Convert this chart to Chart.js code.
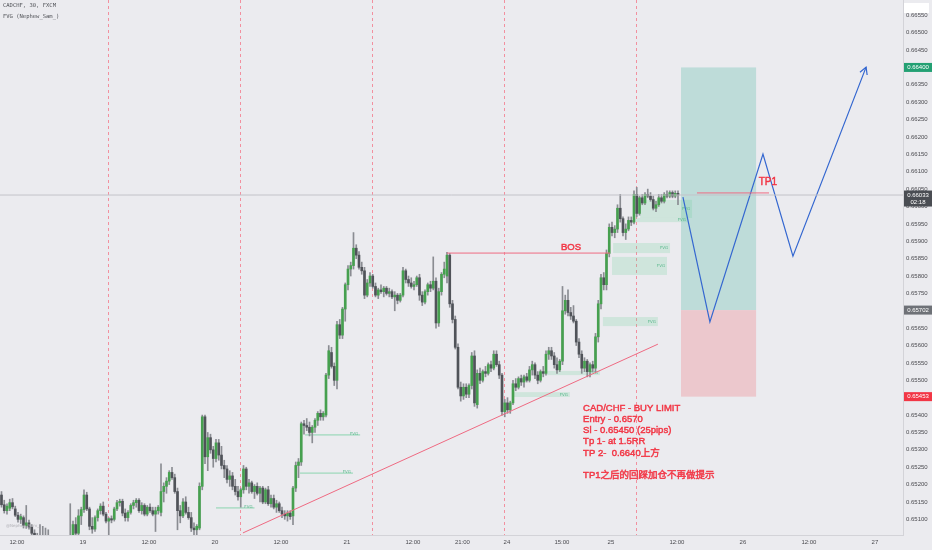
<!DOCTYPE html>
<html><head><meta charset="utf-8">
<script src="https://cdn.jsdelivr.net/npm/chart.js@4.4.1/dist/chart.umd.min.js"></script>
<style>html,body{margin:0;padding:0;background:#ebebef;overflow:hidden}canvas{display:block}</style>
</head><body>
<canvas id="c" width="932" height="550"></canvas>
<script>
// ---- candle data (CADCHF 30m) ----
const openP=[
0.65170,0.65142,0.65125,0.65132,0.65148,0.65130,0.65112,0.65100,0.65105,0.65082,
0.65090,0.65078,0.65060,0.65050,0.65040,0.65050,0.65030,0.65040,0.65030,0.65010,
0.65020,0.65000,0.65010,0.64990,0.65000,0.65020,0.65040,0.65085,0.65060,0.65110,
0.65128,0.65170,0.65130,0.65080,0.65072,0.65105,0.65125,0.65138,0.65115,0.65095,
0.65102,0.65100,0.65130,0.65148,0.65152,0.65118,0.65105,0.65120,0.65140,0.65148,
0.65155,0.65125,0.65140,0.65115,0.65135,0.65125,0.65115,0.65125,0.65120,0.65180,
0.65195,0.65210,0.65235,0.65220,0.65180,0.65125,0.65110,0.65150,0.65120,0.65105,
0.65075,0.65070,0.65075,0.65195,0.65395,0.65280,0.65335,0.65300,0.65275,0.65320,
0.65285,0.65255,0.65245,0.65215,0.65225,0.65195,0.65180,0.65165,0.65185,0.65245,
0.65195,0.65205,0.65180,0.65195,0.65175,0.65190,0.65150,0.65185,0.65145,0.65160,
0.65135,0.65145,0.65125,0.65115,0.65110,0.65118,0.65110,0.65190,0.65255,0.65265,
0.65375,0.65370,0.65365,0.65350,0.65365,0.65385,0.65405,0.65395,0.65400,0.65515,
0.65580,0.65540,0.65500,0.65660,0.65630,0.65705,0.65775,0.65820,0.65830,0.65880,
0.65860,0.65825,0.65815,0.65745,0.65780,0.65800,0.65770,0.65745,0.65760,0.65755,
0.65765,0.65750,0.65755,0.65740,0.65745,0.65730,0.65745,0.65815,0.65790,0.65780,
0.65770,0.65775,0.65795,0.65745,0.65725,0.65755,0.65775,0.65765,0.65785,0.65665,
0.65755,0.65805,0.65800,0.65860,0.65720,0.65675,0.65595,0.65480,0.65455,0.65480,
0.65460,0.65485,0.65570,0.65430,0.65520,0.65500,0.65525,0.65520,0.65545,0.65535,
0.65575,0.65545,0.65515,0.65410,0.65435,0.65415,0.65435,0.65490,0.65480,0.65505,
0.65495,0.65510,0.65500,0.65530,0.65545,0.65515,0.65500,0.65525,0.65520,0.65575,
0.65585,0.65570,0.65545,0.65530,0.65555,0.65700,0.65730,0.65695,0.65685,0.65670,
0.65610,0.65575,0.65535,0.65555,0.65525,0.65545,0.65535,0.65625,0.65720,0.65795,
0.65775,0.65865,0.65940,0.65925,0.65935,0.65995,0.65965,0.65925,0.65935,0.65960,
0.65955,0.66035,0.65980,0.66025,0.66010,0.66035,0.66030,0.66020,0.65995,0.66005,
0.66025,0.66015,0.66035,0.66030,0.66040,0.66030,0.66038];
const highP=[
0.65180,0.65155,0.65145,0.65158,0.65160,0.65138,0.65120,0.65115,0.65110,0.65140,
0.65098,0.65085,0.65070,0.65060,0.65085,0.65080,0.65075,0.65070,0.65050,0.65040,
0.65040,0.65030,0.65030,0.65020,0.65040,0.65145,0.65095,0.65105,0.65128,0.65135,
0.65185,0.65178,0.65135,0.65105,0.65110,0.65130,0.65145,0.65150,0.65120,0.65105,
0.65110,0.65135,0.65155,0.65158,0.65158,0.65130,0.65125,0.65145,0.65155,0.65160,
0.65160,0.65148,0.65145,0.65140,0.65145,0.65135,0.65135,0.65140,0.65260,0.65205,
0.65220,0.65240,0.65250,0.65230,0.65190,0.65140,0.65160,0.65165,0.65135,0.65120,
0.65090,0.65085,0.65205,0.65400,0.65400,0.65350,0.65345,0.65310,0.65330,0.65330,
0.65310,0.65270,0.65255,0.65240,0.65235,0.65215,0.65195,0.65190,0.65255,0.65250,
0.65215,0.65210,0.65200,0.65205,0.65195,0.65195,0.65190,0.65195,0.65170,0.65170,
0.65155,0.65150,0.65135,0.65125,0.65125,0.65125,0.65195,0.65265,0.65275,0.65380,
0.65385,0.65390,0.65380,0.65370,0.65390,0.65410,0.65415,0.65410,0.65520,0.65600,
0.65595,0.65550,0.65670,0.65675,0.65710,0.65780,0.65830,0.65840,0.65925,0.65890,
0.65870,0.65840,0.65825,0.65790,0.65810,0.65805,0.65780,0.65765,0.65775,0.65770,
0.65770,0.65765,0.65760,0.65755,0.65750,0.65750,0.65825,0.65820,0.65800,0.65795,
0.65785,0.65800,0.65805,0.65755,0.65760,0.65780,0.65785,0.65855,0.65795,0.65765,
0.65810,0.65840,0.65868,0.65865,0.65730,0.65685,0.65605,0.65495,0.65490,0.65490,
0.65490,0.65580,0.65585,0.65530,0.65535,0.65530,0.65540,0.65550,0.65555,0.65585,
0.65585,0.65555,0.65520,0.65445,0.65450,0.65440,0.65500,0.65505,0.65510,0.65515,
0.65515,0.65520,0.65540,0.65555,0.65550,0.65525,0.65530,0.65540,0.65585,0.65595,
0.65595,0.65580,0.65565,0.65560,0.65770,0.65745,0.65760,0.65710,0.65715,0.65675,
0.65620,0.65585,0.65565,0.65560,0.65550,0.65555,0.65635,0.65730,0.65805,0.65810,
0.65875,0.65950,0.65955,0.65945,0.66005,0.66035,0.65970,0.65950,0.65970,0.65970,
0.66045,0.66055,0.66030,0.66035,0.66040,0.66050,0.66040,0.66030,0.66015,0.66035,
0.66035,0.66040,0.66045,0.66045,0.66045,0.66045,0.66045];
const lowP=[
0.65135,0.65118,0.65115,0.65125,0.65130,0.65108,0.65092,0.65088,0.65075,0.65074,
0.65072,0.65055,0.65040,0.65030,0.65020,0.65020,0.65010,0.65020,0.65000,0.64990,
0.64990,0.64980,0.64980,0.64970,0.64980,0.65000,0.65020,0.65050,0.65050,0.65085,
0.65120,0.65125,0.65070,0.65060,0.65065,0.65095,0.65115,0.65110,0.65090,0.65055,
0.65090,0.65095,0.65125,0.65138,0.65110,0.65095,0.65095,0.65115,0.65130,0.65135,
0.65120,0.65115,0.65110,0.65110,0.65120,0.65110,0.65065,0.65115,0.65110,0.65150,
0.65175,0.65200,0.65215,0.65175,0.65070,0.65090,0.65105,0.65115,0.65100,0.65065,
0.65050,0.65045,0.65070,0.65185,0.65260,0.65240,0.65290,0.65250,0.65265,0.65270,
0.65245,0.65220,0.65205,0.65195,0.65185,0.65170,0.65155,0.65135,0.65175,0.65185,
0.65175,0.65175,0.65160,0.65170,0.65150,0.65145,0.65145,0.65140,0.65135,0.65130,
0.65120,0.65120,0.65105,0.65100,0.65095,0.65100,0.65085,0.65180,0.65220,0.65255,
0.65345,0.65355,0.65340,0.65320,0.65350,0.65370,0.65385,0.65385,0.65395,0.65505,
0.65535,0.65485,0.65475,0.65620,0.65620,0.65670,0.65760,0.65800,0.65820,0.65850,
0.65820,0.65805,0.65735,0.65740,0.65770,0.65765,0.65740,0.65735,0.65750,0.65740,
0.65745,0.65740,0.65735,0.65700,0.65720,0.65725,0.65740,0.65780,0.65770,0.65765,
0.65760,0.65770,0.65730,0.65715,0.65720,0.65745,0.65755,0.65760,0.65650,0.65655,
0.65745,0.65795,0.65780,0.65710,0.65665,0.65590,0.65475,0.65440,0.65445,0.65450,
0.65450,0.65475,0.65425,0.65420,0.65490,0.65495,0.65510,0.65515,0.65525,0.65530,
0.65540,0.65505,0.65400,0.65395,0.65405,0.65405,0.65430,0.65470,0.65475,0.65485,
0.65480,0.65495,0.65495,0.65515,0.65505,0.65490,0.65495,0.65510,0.65515,0.65560,
0.65560,0.65535,0.65520,0.65525,0.65545,0.65690,0.65685,0.65675,0.65665,0.65600,
0.65565,0.65520,0.65525,0.65510,0.65510,0.65525,0.65525,0.65610,0.65705,0.65760,
0.65760,0.65855,0.65915,0.65910,0.65925,0.65955,0.65915,0.65905,0.65930,0.65945,
0.65950,0.65970,0.65975,0.66005,0.66005,0.66025,0.66015,0.65990,0.65985,0.66000,
0.66010,0.66010,0.66025,0.66025,0.66025,0.66025,0.66005];
const closeP=[
0.65142,0.65125,0.65138,0.65148,0.65136,0.65112,0.65100,0.65108,0.65082,0.65090,
0.65078,0.65060,0.65050,0.65040,0.65050,0.65030,0.65040,0.65030,0.65010,0.65020,
0.65000,0.65010,0.64990,0.65000,0.65020,0.65040,0.65085,0.65060,0.65110,0.65128,
0.65170,0.65130,0.65080,0.65072,0.65105,0.65125,0.65138,0.65115,0.65095,0.65102,
0.65098,0.65130,0.65148,0.65152,0.65118,0.65105,0.65120,0.65140,0.65148,0.65155,
0.65125,0.65140,0.65115,0.65135,0.65125,0.65115,0.65125,0.65135,0.65180,0.65195,
0.65210,0.65235,0.65220,0.65180,0.65125,0.65110,0.65150,0.65120,0.65105,0.65075,
0.65070,0.65080,0.65195,0.65395,0.65280,0.65335,0.65300,0.65275,0.65320,0.65285,
0.65255,0.65245,0.65215,0.65225,0.65195,0.65180,0.65165,0.65185,0.65245,0.65195,
0.65205,0.65180,0.65195,0.65175,0.65190,0.65150,0.65185,0.65145,0.65160,0.65135,
0.65145,0.65125,0.65115,0.65110,0.65118,0.65108,0.65190,0.65255,0.65265,0.65375,
0.65370,0.65365,0.65350,0.65365,0.65385,0.65405,0.65395,0.65405,0.65515,0.65585,
0.65540,0.65500,0.65660,0.65630,0.65705,0.65775,0.65820,0.65830,0.65880,0.65860,
0.65825,0.65815,0.65745,0.65780,0.65800,0.65770,0.65745,0.65760,0.65755,0.65765,
0.65750,0.65755,0.65740,0.65745,0.65730,0.65745,0.65815,0.65790,0.65780,0.65770,
0.65775,0.65795,0.65745,0.65725,0.65755,0.65775,0.65765,0.65785,0.65665,0.65755,
0.65805,0.65820,0.65860,0.65720,0.65675,0.65595,0.65480,0.65455,0.65480,0.65460,
0.65485,0.65570,0.65435,0.65520,0.65500,0.65525,0.65520,0.65545,0.65535,0.65575,
0.65545,0.65515,0.65410,0.65435,0.65415,0.65435,0.65490,0.65480,0.65505,0.65495,
0.65510,0.65500,0.65530,0.65545,0.65515,0.65500,0.65525,0.65520,0.65575,0.65585,
0.65570,0.65545,0.65530,0.65555,0.65700,0.65730,0.65695,0.65685,0.65670,0.65610,
0.65575,0.65535,0.65555,0.65525,0.65545,0.65535,0.65625,0.65720,0.65795,0.65775,
0.65865,0.65940,0.65925,0.65935,0.65995,0.65965,0.65925,0.65935,0.65960,0.65955,
0.66035,0.65980,0.66025,0.66010,0.66035,0.66030,0.66020,0.65995,0.66005,0.66025,
0.66015,0.66035,0.66030,0.66040,0.66030,0.66038,0.66033];

// ---- axes ----
const xTickPos=[5.6,29.6,53.6,77.6,101.6,125.6,149.6,167.6,183.8,203.8,221.6,245.6,269.6,293.6,317.6];
const xTickLabels=['12:00','19','12:00','20','12:00','21','12:00','21:00','24','15:00','25','12:00','26','12:00','27'];
const yTicks=[0.6510,0.6515,0.6520,0.6525,0.6530,0.6535,0.6540,0.6545,0.6550,0.6555,0.6560,0.6565,0.6570,0.6575,0.6580,
0.6585,0.6590,0.6595,0.6600,0.6605,0.6610,0.6615,0.6620,0.6625,0.6630,0.6635,0.6640,0.6645,0.6650,0.6655];
const xMin=-0.545, xMax=327.82, yMin=0.65055, yMax=0.66594;
const daySeparators=[38.75,86.75,134.75,182.75,230.75];

// ---- drawings ----
const lastPrice=0.66033, lastTime='02:18';
const trendX=[87.8,238.7], trendY=[0.65061,0.65604];
const bosX=[162.0,221.3], bosY=[0.65866,0.65866];
const tp1X=[252.9,279.1], tp1Y=[0.66039,0.66039];
const planX=[247.8,257.6,276.9,287.8,314.4], planY=[0.66027,0.65668,0.66151,0.65857,0.66401];
const longBoxX=[247.1,274.4];
const entryPrice=0.65702, targetPrice=0.66400, stopPrice=0.65453;
const fvgX1=[222.4,222.0,218.7,196.9,186.0,232.2,230.7,110.4,108.5,78.0];
const fvgX2=[243.1,242.0,238.7,217.6,206.7,251.1,249.6,130.4,127.8,92.0];
const fvgTop=[0.65895,0.65855,0.65682,0.65527,0.65466,0.66019,0.65967,0.65345,0.65235,0.65135];
const fvgBottom=[0.65866,0.65803,0.65656,0.65515,0.65452,0.65967,0.65955,0.65341,0.65231,0.65131];
const bosLabel={x:207.1,y:0.65881,text:'BOS'};
const tp1Label={x:278.7,y:0.66070,text:'TP1'};
const noteAnchor={x:211.5,y:0.65420};
const noteLines=['CAD/CHF - BUY LIMIT','Entry - 0.6570','Sl - 0.65450 (25pips)','Tp 1- at 1.5RR','TP 2-  0.6640上方','','TP1之后的回踩加仓不再做提示'];
const headerLines=['CADCHF, 30, FXCM','FVG (Nephew_Sam_)'];

const idx=openP.map((_,i)=>i);
const UP='#46a04f', DOWN='#505359', WICK='#8a8c92', PINK='#ef6a82', RED='#f23645', BLUE='#3467d0';
const bodies=idx.map(i=>({x:i,y:[openP[i],closeP[i]]}));
const wicks=idx.map(i=>({x:i,y:[lowP[i],highP[i]]}));
const bodyColors=idx.map(i=>closeP[i]>=openP[i]?UP:DOWN);
const pts=(xs,ys)=>xs.map((v,k)=>({x:v,y:ys[k]}));

const lineDs=(label,data,color,w)=>({type:'line',label,data,borderColor:color,borderWidth:w,pointRadius:0,fill:false,tension:0,order:0});

function boldText(ctx,t,x,y){ctx.fillText(t,x,y);ctx.strokeText(t,x,y);}

const plugin={
  id:'tv',
  beforeDraw(chart){const c=chart.ctx;c.save();c.fillStyle='#ebebef';c.fillRect(0,0,chart.width,chart.height);c.restore();},
  beforeDatasetsDraw(chart){
    const {ctx,chartArea:a,scales:{x,y}}=chart;
    ctx.save();
    ctx.beginPath();ctx.rect(a.left,a.top,a.right-a.left,a.bottom-a.top);ctx.clip();
    ctx.strokeStyle='#f2909f';ctx.lineWidth=1;ctx.setLineDash([3,3]);
    daySeparators.forEach(v=>{const px=Math.round(x.getPixelForValue(v))+0.5;ctx.beginPath();ctx.moveTo(px,a.top);ctx.lineTo(px,a.bottom);ctx.stroke();});
    ctx.setLineDash([]);
    const b1=x.getPixelForValue(longBoxX[0]),b2=x.getPixelForValue(longBoxX[1]);
    const yT=y.getPixelForValue(targetPrice),yE=y.getPixelForValue(entryPrice),yS=y.getPixelForValue(stopPrice);
    ctx.fillStyle='#bedcd9';ctx.fillRect(b1,yT,b2-b1,yE-yT);
    ctx.fillStyle='#ecc8cd';ctx.fillRect(b1,yE,b2-b1,yS-yE);
    fvgX1.forEach((v,k)=>{
      const p1=x.getPixelForValue(v),p2=x.getPixelForValue(fvgX2[k]);
      const t=y.getPixelForValue(fvgTop[k]),b=y.getPixelForValue(fvgBottom[k]);
      const h=Math.max(b-t,1);
      ctx.fillStyle=h<3?'rgba(110,205,155,0.55)':'rgba(110,210,155,0.22)';
      ctx.fillRect(p1,t,p2-p1,h);
      ctx.fillStyle='#5cb98e';ctx.font='4px "DejaVu Sans"';ctx.textAlign='right';ctx.textBaseline='middle';
      ctx.fillText('FVG',p2-2,h<3?t:(t+b)/2);
    });
    ctx.restore();
  },
  afterDatasetsDraw(chart){
    const {ctx,chartArea:a,scales:{x,y}}=chart;
    ctx.save();
    ctx.beginPath();ctx.rect(a.left,a.top,a.right-a.left,a.bottom-a.top);ctx.clip();
    const pm=chart.getDatasetMeta(chart.data.datasets.findIndex(d=>d.label==='plan')).data;
    const p1=pm[pm.length-2],p2=pm[pm.length-1];
    const ang=Math.atan2(p2.y-p1.y,p2.x-p1.x),L=8;
    ctx.strokeStyle=BLUE;ctx.lineWidth=1.2;ctx.beginPath();
    ctx.moveTo(p2.x-L*Math.cos(ang-0.5),p2.y-L*Math.sin(ang-0.5));
    ctx.lineTo(p2.x,p2.y);
    ctx.lineTo(p2.x-L*Math.cos(ang+0.5),p2.y-L*Math.sin(ang+0.5));
    ctx.stroke();
    ctx.fillStyle=RED;ctx.strokeStyle=RED;ctx.lineWidth=0.45;ctx.textBaseline='middle';
    ctx.font='9.5px "Liberation Sans","Noto Sans CJK SC",sans-serif';
    ctx.textAlign='center';
    boldText(ctx,bosLabel.text,x.getPixelForValue(bosLabel.x),y.getPixelForValue(bosLabel.y));
    ctx.font='10px "Liberation Sans","Noto Sans CJK SC",sans-serif';
    boldText(ctx,tp1Label.text,x.getPixelForValue(tp1Label.x),y.getPixelForValue(tp1Label.y));
    ctx.textAlign='left';
    ctx.font='9.5px "Liberation Sans","Noto Sans CJK SC",sans-serif';
    const nx=x.getPixelForValue(noteAnchor.x),ny=y.getPixelForValue(noteAnchor.y);
    noteLines.forEach((t,k)=>{if(t)boldText(ctx,t,nx,ny+k*11.2);});
    ctx.restore();
  },
  afterDraw(chart){
    const {ctx,chartArea:a,scales:{y}}=chart;
    ctx.save();
    ctx.fillStyle='#4f5156';ctx.font='5.5px "DejaVu Sans Mono"';ctx.textAlign='left';ctx.textBaseline='middle';
    headerLines.forEach((t,k)=>ctx.fillText(t,3,6+k*10.5));
    ctx.fillStyle='#b2b2b8';ctx.font='4px "DejaVu Sans"';ctx.fillText('@Nephew_Sam_',6,526);
    ctx.fillStyle='#ffffff';ctx.fillRect(904,3,25,10);
    const tag=(price,lines,bg)=>{
      const py=y.getPixelForValue(price);
      const h=lines.length>1?16:9;
      ctx.fillStyle=bg;ctx.fillRect(a.right+1,py-4.5,28,h);
      ctx.fillStyle='#ffffff';ctx.font='6px "Liberation Sans"';ctx.textAlign='center';ctx.textBaseline='middle';
      lines.forEach((t,k)=>ctx.fillText(t,a.right+15,py+k*7.5));
    };
    tag(targetPrice,[targetPrice.toFixed(5)],'#23a073');
    tag(entryPrice,[entryPrice.toFixed(5)],'#6e7177');
    tag(stopPrice,[stopPrice.toFixed(5)],'#f23645');
    tag(lastPrice,[lastPrice.toFixed(5),lastTime],'#4a4d53');
    ctx.restore();
  }
};

new Chart(document.getElementById('c'),{
  type:'bar',
  data:{datasets:[
    lineDs('last',pts([xMin,xMax],[lastPrice,lastPrice]),'#c3c3c9',1),
    lineDs('trend',pts(trendX,trendY),PINK,1),
    lineDs('bos',pts(bosX,bosY),PINK,1),
    lineDs('tp1',pts(tp1X,tp1Y),PINK,1),
    lineDs('plan',pts(planX,planY),BLUE,1.2),
    {type:'bar',label:'body',data:bodies,backgroundColor:bodyColors,barThickness:2,grouped:false,minBarLength:1,borderWidth:0,order:1},
    {type:'bar',label:'wick',data:wicks,backgroundColor:WICK,barThickness:1,grouped:false,borderWidth:0,order:2}
  ]},
  options:{
    responsive:false,animation:false,
    layout:{padding:0},
    plugins:{legend:{display:false},tooltip:{enabled:false}},
    scales:{
      x:{type:'linear',min:xMin,max:xMax,offset:false,
        grid:{display:false,drawTicks:false},
        border:{display:true,color:'#d3d3d8'},
        afterBuildTicks:s=>{s.ticks=xTickPos.map(v=>({value:v}));},
        afterFit:s=>{s.height=15;s.paddingLeft=0;s.paddingRight=0;},
        ticks:{autoSkip:false,maxRotation:0,padding:4,color:'#4b4b50',
          font:{size:6,family:'"Liberation Sans"'},
          callback:(v,i)=>xTickLabels[i]}},
      y:{type:'linear',position:'right',min:yMin,max:yMax,
        grid:{display:false,drawTicks:false},
        border:{display:true,color:'#d3d3d8'},
        afterBuildTicks:s=>{s.ticks=yTicks.map(v=>({value:v}));},
        afterFit:s=>{s.width=29;s.paddingTop=0;s.paddingBottom=0;},
        ticks:{padding:3,color:'#4b4b50',font:{size:6,family:'"Liberation Sans"'},callback:v=>Number(v).toFixed(5)}}
    }
  },
  plugins:[plugin]
});
</script>
</body></html>
